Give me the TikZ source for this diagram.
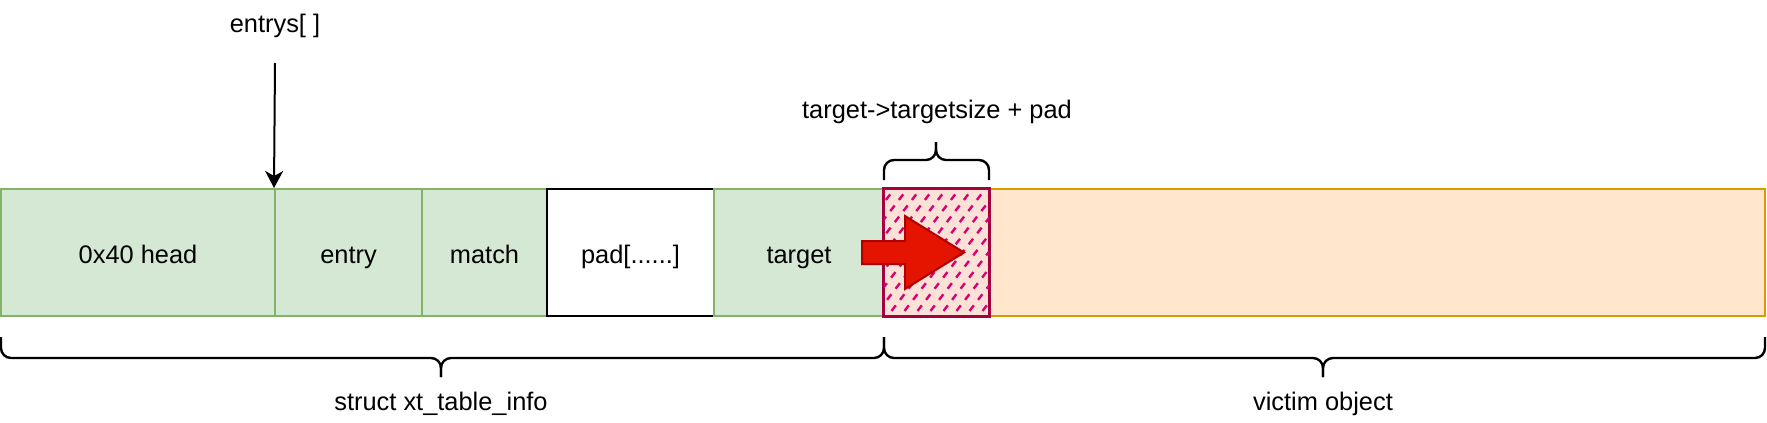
\documentclass[tikz,border=0pt]{standalone}
\usepackage{fontspec}
\setmainfont{Liberation Sans}
\usetikzlibrary{arrows.meta}
\definecolor{gfill}{HTML}{D5E8D4}
\definecolor{gline}{HTML}{82B366}
\definecolor{ofill}{HTML}{FFE6CC}
\definecolor{oline}{HTML}{D79B00}
\definecolor{hline}{HTML}{A50040}
\definecolor{hatchc}{HTML}{D80073}
\definecolor{hfill}{HTML}{FCE2D6}
\definecolor{afill}{HTML}{E51400}
\definecolor{aline}{HTML}{B20000}
\begin{document}
\begin{tikzpicture}[x=0.5pt,y=-0.5pt,
 lbl/.style={font=\fontsize{12.7}{15}\selectfont, inner sep=0pt, text height=10.5pt, text depth=0pt},
 cell/.style={draw=gline, fill=gfill, line width=1pt, inner sep=0pt, minimum height=63.5pt, font=\fontsize{12.7}{15}\selectfont, text height=10.5pt, text depth=0pt},
 padcell/.style={cell, draw=black, fill=white},
 victimcell/.style={cell, draw=oline, fill=ofill},
 hotcell/.style={cell, draw=hline, fill=hfill, line width=1.2pt},
 hatchline/.style={draw=hatchc, line width=1.2pt, dash pattern=on 3.5pt off 3.5pt},
 brace/.style={line width=1.2pt, rounded corners=5pt},
 pointer/.style={line width=1pt, -{Stealth[length=8.5pt,width=9pt,inset=2.5pt]}},
 bigarrow/.style={fill=afill, draw=aline, line width=1pt},
]
\useasboundingbox (0,0) rectangle (1767,423);
% cells
\node[cell, minimum width=137pt] (head) at (138,252.5) {0x40 head};
\node[cell, minimum width=73.5pt] (entry) at (348.5,252.5) {entry};
\node[cell, minimum width=62.5pt] (match) at (484.5,252.5) {match};
\node[padcell, minimum width=83.5pt] (pad) at (630.5,252.5) {pad[......]};
\node[cell, minimum width=85pt] (target) at (799,252.5) {target};
\node[victimcell, minimum width=440.5pt] (victim) at (1324.5,252.5) {};
\node[hotcell, minimum width=52.5pt] (hot) at (936.5,252.5) {};
% hatch
\begin{scope}
\clip (hot.south west) rectangle (hot.north east);
\foreach \x in {766,779,...,1000}{
  \draw[hatchline] (\x,322) -- ++(110,-143);
}
\end{scope}
\draw[draw=hline, line width=1.2pt] (hot.north west) rectangle (hot.south east);
% red arrow
\filldraw[bigarrow] (862,241) -- (905,241) -- (905,216) -- (964,252.5) -- (905,289) -- (905,264) -- (862,264) -- cycle;
% labels
\node[lbl] (entlbl) at (275,22) {entrys[ ]};
\node[lbl] (tlbl) at (937,108) {target->targetsize + pad};
\node[lbl] (slbl) at (441,400) {struct xt\_table\_info};
\node[lbl] (vlbl) at (1323,400) {victim object};
% pointer
\coordinate (pstart) at (275,63);
\draw[pointer] (pstart) -- (entry.north west);
% braces
\draw[brace] (1,337) -- (1,358) -- (441,358) -- (441,377);
\draw[brace] (441,377) -- (441,358) -- (884,358) -- (884,337);
\draw[brace] (884,337) -- (884,358) -- (1323,358) -- (1323,377);
\draw[brace] (1323,377) -- (1323,358) -- (1765,358) -- (1765,337);
\draw[brace] (884,180) -- (884,160) -- (936,160) -- (936,142);
\draw[brace] (936,142) -- (936,160) -- (989,160) -- (989,180);
\end{tikzpicture}
\end{document}
